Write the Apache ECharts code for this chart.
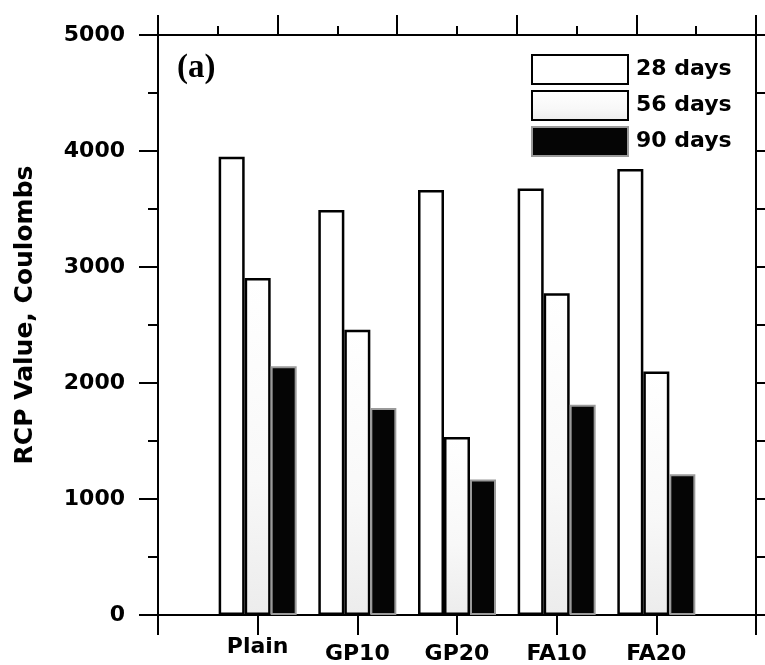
<!DOCTYPE html>
<html>
<head>
<meta charset="utf-8">
<script src="https://cdn.jsdelivr.net/npm/echarts@6/dist/echarts.min.js"></script>
<style>html,body{margin:0;padding:0;background:#fff}#c{width:765px;height:665px}</style>
</head>
<body>
<div id="c"></div>
<script>
const categories = ['Plain', 'GP10', 'GP20', 'FA10', 'FA20'];
const seriesNames = ['28 days', '56 days', '90 days'];
const days28 = [3950, 3491, 3663, 3677, 3844];
const days56 = [2906, 2459, 1535, 2774, 2100];
const days90 = [2145, 1784, 1168, 1813, 1213];
const yTicks = [0, 1000, 2000, 3000, 4000, 5000];

const chart = echarts.init(document.getElementById('c'), null, {renderer: 'canvas'});
const toPts = arr => arr.map((v, i) => [i + 1, v]);
const FONT = 'DejaVu Sans';
const line2 = {color: '#000', width: 2};

chart.setOption({
  animation: false,
  backgroundColor: '#fff',
  grid: {left: 158, right: 9, top: 35, bottom: 50, containLabel: false},
  legend: {
    data: seriesNames.map(n => ({name: n, icon: 'rect'})),
    orient: 'vertical',
    left: 526, top: 49,
    itemWidth: 96, itemHeight: 29, itemGap: 5,
    textStyle: {fontFamily: FONT, fontWeight: 'bold', fontSize: 22, color: '#000', padding: [0, 0, 0, 3]},
    selectedMode: false
  },
  xAxis: [{
    type: 'value', position: 'bottom', min: 0, max: 6, interval: 1,
    axisLine: {onZero: false, lineStyle: line2},
    axisTick: {show: true, inside: false, length: 20, lineStyle: line2},
    splitLine: {show: false},
    axisLabel: {
      margin: 21,
      formatter: v => {
        const name = categories[v - 1];
        if (!name) return '';
        return v === 1 ? '{hi|' + name + '}' : '{lo|' + name + '}';
      },
      rich: {
        hi: {fontFamily: FONT, fontWeight: 'bold', fontSize: 22, color: '#000'},
        lo: {fontFamily: FONT, fontWeight: 'bold', fontSize: 22, color: '#000', padding: [7, 0, 0, 0]}
      }
    }
  }, {
    type: 'value', position: 'top', min: 0, max: 10, interval: 2,
    axisLine: {onZero: false, lineStyle: line2},
    axisTick: {show: true, inside: false, length: 20, lineStyle: line2},
    minorTick: {show: true, splitNumber: 2, length: 9, lineStyle: line2},
    splitLine: {show: false},
    axisLabel: {show: false}
  }],
  yAxis: [{
    type: 'value', position: 'left', min: 0, max: 5000, interval: 1000,
    name: 'RCP Value, Coulombs',
    nameLocation: 'middle', nameGap: 120, nameRotate: 90,
    nameTextStyle: {fontFamily: FONT, fontWeight: 'bold', fontSize: 25, color: '#000', padding: [0, 0, 0, 20]},
    axisLine: {show: true, onZero: false, lineStyle: line2},
    axisTick: {show: true, inside: false, length: 19, lineStyle: line2},
    minorTick: {show: true, splitNumber: 2, length: 10, lineStyle: line2},
    splitLine: {show: false},
    axisLabel: {
      margin: 33,
      formatter: v => yTicks.includes(v) ? String(v) : '',
      fontFamily: FONT, fontWeight: 'bold', fontSize: 22, color: '#000'
    }
  }, {
    type: 'value', position: 'right', min: 0, max: 5000, interval: 1000,
    axisLine: {show: true, onZero: false, lineStyle: line2},
    axisTick: {show: true, inside: false, length: 10, lineStyle: line2},
    minorTick: {show: true, splitNumber: 2, length: 10, lineStyle: line2},
    splitLine: {show: false},
    axisLabel: {show: false}
  }],
  graphic: [{
    type: 'text', left: 177, top: 52,
    style: {text: '(a)', font: 'bold 33px "Liberation Serif"', fill: '#000'}
  }],
  series: [{
    name: seriesNames[0], type: 'bar', xAxisIndex: 0, yAxisIndex: 0,
    data: toPts(days28), barWidth: 26, barGap: '0%',
    itemStyle: {color: '#fff', borderColor: '#000', borderWidth: 2.5}
  }, {
    name: seriesNames[1], type: 'bar', xAxisIndex: 0, yAxisIndex: 0,
    data: toPts(days56), barWidth: 26, barGap: '0%',
    itemStyle: {
      color: new echarts.graphic.LinearGradient(0, 0, 0, 1, [
        {offset: 0, color: '#ffffff'}, {offset: 0.6, color: '#f8f8f8'}, {offset: 1, color: '#ececec'}
      ]),
      borderColor: '#000', borderWidth: 2.5
    }
  }, {
    name: seriesNames[2], type: 'bar', xAxisIndex: 0, yAxisIndex: 0,
    data: toPts(days90), barWidth: 26, barGap: '0%',
    itemStyle: {color: '#050505', borderColor: '#9a9a9a', borderWidth: 2}
  }]
});
</script>
</body>
</html>
